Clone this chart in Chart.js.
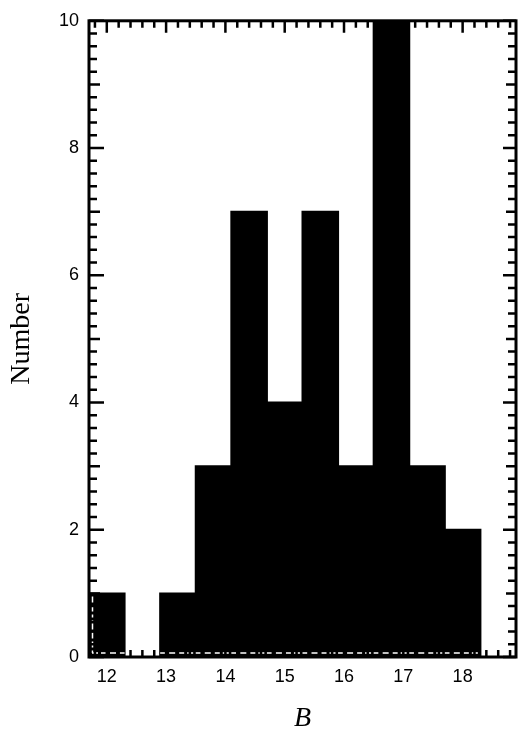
<!DOCTYPE html>
<html>
<head>
<meta charset="utf-8">
<script src="https://cdn.jsdelivr.net/npm/chart.js"></script>
<style>
  html, body { margin: 0; padding: 0; background: #fff; }
  #wrap { width: 519px; height: 736px; }
</style>
</head>
<body>
<div id="wrap"><canvas id="hist" width="519" height="736"></canvas></div>
<script>
// B magnitude bins (centres, bin width 0.6) and number of objects per bin
const binCenters = [12.0, 12.6, 13.2, 13.8, 14.4, 15.0, 15.6, 16.2, 16.8, 17.4, 18.0];
const counts = [1, 0, 1, 3, 7, 4, 7, 3, 10, 3, 2];
const xTickValues = [12, 13, 14, 15, 16, 17, 18];
const yTickValues = [0, 2, 4, 6, 8, 10];

// box frame with inward ticks on all four sides + the white streak at the bar bases
const framePlugin = {
  id: 'frame',
  afterDatasetsDraw(chart) {
    const { ctx, chartArea: a, scales: { x, y } } = chart;
    ctx.save();

    // white dashed streak just above the bottom axis, across each bar
    ctx.strokeStyle = '#fff';
    ctx.lineWidth = 1.5;
    ctx.setLineDash([6, 3]);
    const bars = chart.getDatasetMeta(0).data;
    bars.forEach((bar, i) => {
      if (!counts[i]) return;
      const l = Math.max(bar.x - bar.width / 2, a.left + 3);
      const r = bar.x + bar.width / 2;
      ctx.beginPath();
      ctx.moveTo(l, a.bottom - 4);
      ctx.lineTo(r, a.bottom - 4);
      ctx.stroke();
    });
    // and along the left side of the first bar
    ctx.beginPath();
    ctx.moveTo(a.left + 3.5, bars[0].y + 3);
    ctx.lineTo(a.left + 3.5, a.bottom - 4);
    ctx.stroke();
    ctx.setLineDash([]);

    ctx.strokeStyle = '#000';
    ctx.lineWidth = 2.5;
    ctx.beginPath();
    // y ticks, every 0.2
    for (let i = 0; i <= 50; i++) {
      const py = y.getPixelForValue(i / 5);
      let len = 8, lenR = 8;
      if (i % 10 === 0) { len = 15; lenR = 13; }
      else if (i % 5 === 0) { len = 11; lenR = 10; }
      ctx.moveTo(a.left, py); ctx.lineTo(a.left + len, py);
      ctx.moveTo(a.right, py); ctx.lineTo(a.right - lenR, py);
    }
    // x ticks, every 0.2
    for (let i = 59; i <= 94; i++) {
      const px = x.getPixelForValue(i / 5);
      const len = i % 5 === 0 ? 12 : 7;
      ctx.moveTo(px, a.top); ctx.lineTo(px, a.top + len);
      ctx.moveTo(px, a.bottom); ctx.lineTo(px, a.bottom - len);
    }
    ctx.stroke();

    ctx.lineWidth = 3;
    ctx.strokeRect(a.left, a.top, a.right - a.left, a.bottom - a.top);
    ctx.restore();
  }
};

new Chart(document.getElementById('hist'), {
  type: 'bar',
  data: {
    datasets: [{
      data: binCenters.map((b, i) => ({ x: b, y: counts[i] })),
      backgroundColor: '#000',
      borderWidth: 0,
      inflateAmount: 1,
      barPercentage: 1,
      categoryPercentage: 1,
    }],
  },
  options: {
    responsive: false,
    animation: false,
    layout: { padding: { top: 14, right: 3, left: 0, bottom: 0 } },
    plugins: { legend: { display: false }, tooltip: { enabled: false } },
    scales: {
      x: {
        type: 'linear',
        min: 11.7,
        max: 18.9,
        offset: false,
        grid: { display: false, drawTicks: false, tickLength: 0 },
        border: { display: false },
        afterBuildTicks: s => { s.ticks = xTickValues.map(v => ({ value: v })); },
        afterFit: s => { s.height = 79; },
        ticks: {
          color: '#000',
          font: { family: 'Liberation Sans', size: 18 },
          padding: 9,
          maxRotation: 0,
          autoSkip: false,
        },
        title: {
          display: true,
          text: 'B',
          color: '#000',
          font: { family: 'Liberation Serif', size: 28, style: 'italic' },
          padding: { top: 0, bottom: 1 },
        },
      },
      y: {
        min: 0,
        max: 10,
        grid: { display: false, drawTicks: false, tickLength: 0 },
        border: { display: false },
        afterBuildTicks: s => { s.ticks = yTickValues.map(v => ({ value: v })); },
        afterFit: s => { s.width = 89; },
        ticks: {
          color: '#000',
          font: { family: 'Liberation Sans', size: 18 },
          padding: 10,
          autoSkip: false,
        },
        title: {
          display: true,
          text: 'Number',
          color: '#000',
          font: { family: 'Liberation Serif', size: 28 },
          padding: { top: 5, bottom: 0 },
        },
      },
    },
  },
  plugins: [framePlugin],
});
</script>
</body>
</html>
